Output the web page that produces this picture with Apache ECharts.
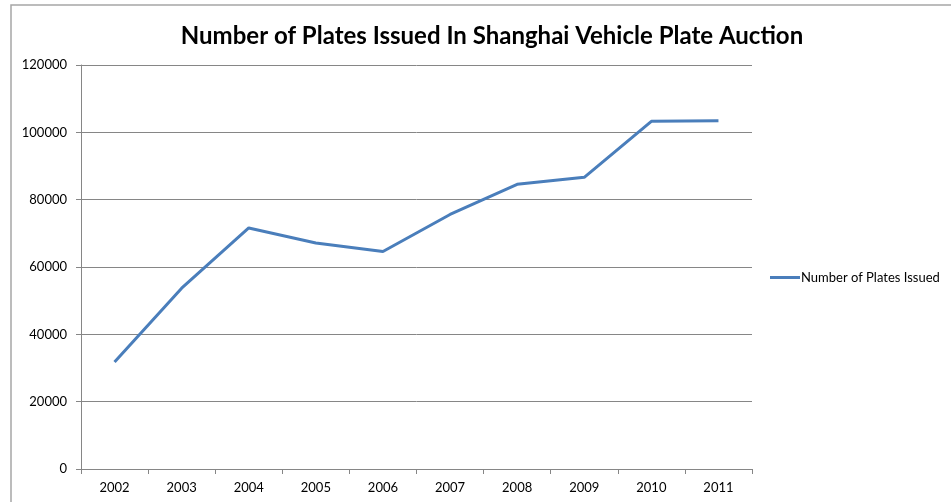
<!DOCTYPE html>
<html>
<head>
<meta charset="utf-8">
<script src="https://cdn.jsdelivr.net/npm/echarts@6/dist/echarts.min.js"></script>
<style>
  html, body { margin: 0; padding: 0; background: #fff; }
  #chart { width: 951px; height: 502px; }
</style>
</head>
<body>
<div id="chart"></div>
<script>
// plates issued per year
var years = ['2002', '2003', '2004', '2005', '2006', '2007', '2008', '2009', '2010', '2011'];
var platesIssued = [31800, 53700, 71600, 67150, 64600, 75600, 84550, 86630, 103270, 103470];
var seriesName = 'Number of Plates Issued';

var chart = echarts.init(document.getElementById('chart'));

var option = {
  backgroundColor: '#ffffff',
  animation: false,
  title: {
    text: 'Number of Plates Issued In Shanghai Vehicle Plate Auction',
    left: 487,
    top: 19,
    textAlign: 'center',
    textStyle: {
      fontFamily: 'Lato',
      fontWeight: 'bold',
      fontSize: 24,
      color: '#000'
    }
  },
  // outer chart border (only top and left edges are visible)
  graphic: [{
    type: 'rect',
    shape: { x: 11, y: 5, width: 960, height: 520 },
    style: { fill: 'none', stroke: '#a6a6a6', lineWidth: 1.5 },
    silent: true
  }],
  legend: {
    data: [seriesName],
    left: 765,
    top: 266,
    icon: 'rect',
    itemWidth: 30,
    itemHeight: 3,
    textStyle: { fontFamily: 'Lato', fontSize: 13, color: '#000', padding: [0, 0, 0, -4] }
  },
  grid: {
    left: 81,
    right: 199,
    top: 65,
    bottom: 33,
    containLabel: false
  },
  xAxis: {
    type: 'category',
    data: years,
    boundaryGap: true,
    axisLine: { lineStyle: { color: '#868686', width: 1 } },
    axisTick: { show: true, length: 5, lineStyle: { color: '#868686' } },
    axisLabel: { margin: 12, fontFamily: 'Lato', fontSize: 13, color: '#000' },
    splitLine: { show: false }
  },
  yAxis: {
    type: 'value',
    min: 0,
    max: 120000,
    interval: 20000,
    axisLine: { show: true, lineStyle: { color: '#868686', width: 1 } },
    axisTick: { show: true, length: 5, lineStyle: { color: '#868686' } },
    axisLabel: {
      margin: 14, fontFamily: 'Lato', fontSize: 13, color: '#000',
      formatter: function (v) { return String(v); }
    },
    splitLine: { show: true, lineStyle: { color: '#868686', width: 1 } }
  },
  series: [{
    name: seriesName,
    type: 'line',
    data: platesIssued,
    symbol: 'none',
    lineStyle: { color: '#4a7ebb', width: 3 },
    itemStyle: { color: '#4a7ebb' }
  }]
};

chart.setOption(option);
</script>
</body>
</html>
